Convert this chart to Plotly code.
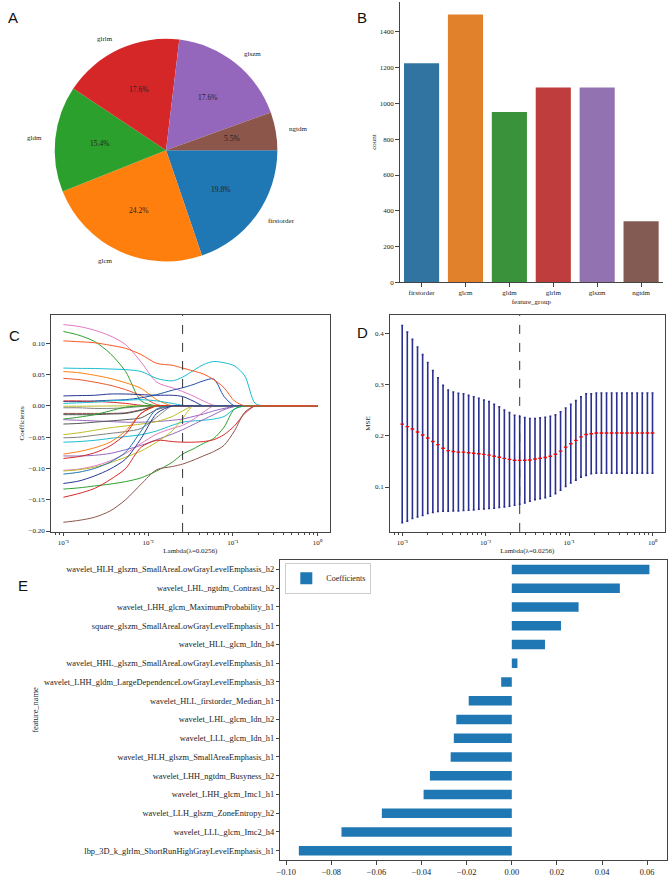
import math
import plotly.graph_objects as go

W, H = 669, 877

# ---------------- data ----------------
feature_groups = ["firstorder", "glcm", "gldm", "glrlm", "glszm", "ngtdm"]
group_counts = [1224, 1497, 952, 1089, 1089, 341]

# LASSO coefficient paths (sampled lambdas)
lasso_lambdas = [0.001, 0.0015264, 0.0023300, 0.0035565, 0.0054287, 0.0082864, 0.012649,
                 0.019307, 0.025595, 0.033932, 0.044984, 0.059636, 0.079060, 0.10481,
                 0.13895, 0.18421, 0.24421, 1.0]
lasso_paths = [
    [0.130, 0.127, 0.121, 0.112, 0.098, 0.070, 0.038, 0.029, 0.023, 0.016, 0.008, 0.001, 0, 0, 0, 0, 0, 0],
    [0.119, 0.113, 0.103, 0.084, 0.055, 0.008, 0, 0, 0, 0, 0, 0, 0, 0, 0, 0, 0, 0],
    [0.0605, 0.060, 0.0598, 0.059, 0.058, 0.055, 0.044, 0.040, 0.046, 0.056, 0.066, 0.071, 0.069, 0.064, 0.048, 0.004, 0, 0],
    [0.055, 0.053, 0.049, 0.044, 0.037, 0.028, 0.010, 0, 0, 0, 0, 0, 0, 0, 0, 0, 0, 0],
    [0.044, 0.042, 0.038, 0.033, 0.026, 0.016, 0.002, 0, 0, 0, 0, 0, 0, 0, 0, 0, 0, 0],
    [0.016, 0.0165, 0.017, 0.019, 0.019, 0.018, 0.017, 0.017, 0.015, 0.008, 0, 0, 0, 0, 0, 0, 0, 0],
    [0.007, 0.007, 0.008, 0.009, 0.010, 0.013, 0.018, 0.025, 0.029, 0.034, 0.040, 0.043, 0.015, 0, 0, 0, 0, 0],
    [0.008, 0.008, 0.007, 0.006, 0.004, 0.001, 0, 0, 0, 0, 0, 0, 0, 0, 0, 0, 0, 0],
    [0.004, 0.005, 0.006, 0.008, 0.009, 0.010, 0.008, 0.004, 0.001, 0, 0, 0, 0, 0, 0, 0, 0, 0],
    [-0.0005, -0.0005, -0.0003, -0.0001, 0, 0, 0, 0, 0, 0, 0, 0, 0, 0, 0, 0, 0, 0],
    [-0.003, -0.003, -0.004, -0.004, -0.003, -0.001, 0, 0, 0, 0, 0, 0, 0, 0, 0, 0, 0, 0],
    [-0.012, -0.012, -0.012, -0.012, -0.011, -0.006, 0, 0, 0, 0, 0, 0, 0, 0, 0, 0, 0, 0],
    [-0.014, -0.014, -0.014, -0.013, -0.012, -0.007, 0, 0, 0, 0, 0, 0, 0, 0, 0, 0, 0, 0],
    [-0.021, -0.018, -0.014, -0.008, -0.002, 0, 0, 0, 0, 0, 0, 0, 0, 0, 0, 0, 0, 0],
    [-0.022, -0.023, -0.024, -0.025, -0.026, -0.026, -0.025, -0.023, -0.021, -0.017, -0.013, -0.008, -0.004, -0.001, 0, 0, 0, 0],
    [-0.029, -0.028, -0.026, -0.024, -0.022, -0.019, -0.006, 0, 0, 0, 0, 0, 0, 0, 0, 0, 0, 0],
    [-0.046, -0.043, -0.039, -0.035, -0.032, -0.029, -0.025, -0.017, -0.008, 0, 0, 0, 0, 0, 0, 0, 0, 0],
    [-0.051, -0.050, -0.047, -0.044, -0.041, -0.036, -0.018, 0, 0, 0, 0, 0, 0, 0, 0, 0, 0, 0],
    [-0.058, -0.057, -0.055, -0.052, -0.049, -0.046, -0.040, -0.031, -0.026, -0.024, -0.023, -0.021, -0.017, -0.005, 0, 0, 0, 0],
    [-0.077, -0.073, -0.067, -0.058, -0.040, -0.012, 0, 0, 0, 0, 0, 0, 0, 0, 0, 0, 0, 0],
    [-0.080, -0.080, -0.079, -0.076, -0.070, -0.063, -0.054, -0.045, -0.038, -0.030, -0.022, -0.014, -0.006, -0.001, 0, 0, 0, 0],
    [-0.084, -0.081, -0.075, -0.064, -0.045, -0.012, 0, 0, 0, 0, 0, 0, 0, 0, 0, 0, 0, 0],
    [-0.103, -0.101, -0.096, -0.088, -0.076, -0.060, -0.045, -0.036, -0.031, -0.022, -0.010, 0, 0, 0, 0, 0, 0, 0],
    [-0.104, -0.102, -0.098, -0.091, -0.082, -0.072, -0.058, -0.040, -0.020, 0, 0, 0, 0, 0, 0, 0, 0, 0],
    [-0.109, -0.106, -0.100, -0.090, -0.074, -0.040, -0.005, 0, 0, 0, 0, 0, 0, 0, 0, 0, 0, 0],
    [-0.124, -0.120, -0.112, -0.101, -0.085, -0.052, -0.012, 0, 0, 0, 0, 0, 0, 0, 0, 0, 0, 0],
    [-0.133, -0.131, -0.128, -0.125, -0.121, -0.115, -0.104, -0.090, -0.077, -0.069, -0.060, -0.052, -0.034, -0.005, 0, 0, 0, 0],
    [-0.146, -0.140, -0.132, -0.118, -0.100, -0.066, -0.055, -0.057, -0.058, -0.058, -0.057, -0.054, -0.046, -0.032, -0.012, 0, 0, 0],
    [-0.186, -0.183, -0.178, -0.168, -0.150, -0.125, -0.102, -0.097, -0.093, -0.087, -0.080, -0.073, -0.063, -0.040, -0.010, 0, 0, 0],
    [0.104, 0.1026, 0.101, 0.097, 0.092, 0.082, 0.068, 0.065, 0.0605, 0.056, 0.051, 0.042, 0.029, 0.008, 0, 0, 0, 0],
]
lasso_colors = ["#e377c2", "#2ca02c", "#17becf", "#ff7f0e", "#e8542a", "#283593", "#1f4fa8",
                "#d62728", "#17becf", "#bcbd22", "#7f7f7f", "#8c564b", "#4d4d4d", "#2ca02c",
                "#9467bd", "#555555", "#bcbd22", "#7f7f7f", "#17becf", "#ff7f0e", "#9467bd",
                "#d62728", "#e377c2", "#bcbd22", "#1f77b4", "#283593", "#2ca02c", "#d62728",
                "#8c564b", "#ff5722"]

best_lambda = 0.0256

# cross-validation MSE
cv_lambdas = [0.001, 0.0011514, 0.0013257, 0.0015264, 0.0017575, 0.0020236, 0.0023300, 0.0026827,
              0.0030888, 0.0035565, 0.0040949, 0.0047149, 0.0054287, 0.0062506, 0.0071969,
              0.0082864, 0.0095410, 0.010985, 0.012649, 0.014563, 0.016768, 0.019307, 0.022230,
              0.025595, 0.029471, 0.033932, 0.039069, 0.044984, 0.051795, 0.059636, 0.068665,
              0.079060, 0.091030, 0.10481, 0.12068, 0.13895, 0.15999, 0.18421, 0.21210, 0.24421,
              0.28118, 0.32375, 0.37276, 0.42919, 0.49417, 0.56899, 0.65513, 0.75431, 0.86851, 1.0]
cv_mse_mean = [0.2231, 0.2182, 0.2137, 0.2078, 0.2017, 0.1959, 0.1891, 0.1829, 0.1758, 0.1712,
               0.1696, 0.1683, 0.1683, 0.1670, 0.1660, 0.1651, 0.1638, 0.1625, 0.1602, 0.1583,
               0.1560, 0.1540, 0.1524, 0.1521, 0.1524, 0.1530, 0.1547, 0.1563, 0.1579, 0.1602,
               0.1641, 0.1703, 0.1780, 0.1848, 0.1913, 0.1981, 0.2027, 0.2043, 0.2056, 0.2056,
               0.2056, 0.2056, 0.2056, 0.2056, 0.2056, 0.2056, 0.2056, 0.2056, 0.2056, 0.2056]
cv_mse_std = [0.1931, 0.1850, 0.1753, 0.1662, 0.1575, 0.1478, 0.1390, 0.1309, 0.1231, 0.1186,
              0.1163, 0.1150, 0.1144, 0.1124, 0.1108, 0.1086, 0.1066, 0.1047, 0.1017, 0.0985,
              0.0949, 0.0917, 0.0881, 0.0859, 0.0836, 0.0810, 0.0794, 0.0791, 0.0787, 0.0784,
              0.0771, 0.0768, 0.0768, 0.0771, 0.0778, 0.0787, 0.0800, 0.0784, 0.0784, 0.0784,
              0.0784, 0.0784, 0.0784, 0.0784, 0.0784, 0.0784, 0.0784, 0.0784, 0.0784, 0.0784]

# selected features (top to bottom as displayed)
feature_names = [
    "wavelet_HLH_glszm_SmallAreaLowGrayLevelEmphasis_h2",
    "wavelet_LHL_ngtdm_Contrast_h2",
    "wavelet_LHH_glcm_MaximumProbability_h1",
    "square_glszm_SmallAreaLowGrayLevelEmphasis_h1",
    "wavelet_HLL_glcm_Idn_h4",
    "wavelet_HHL_glszm_SmallAreaLowGrayLevelEmphasis_h1",
    "wavelet_LHH_gldm_LargeDependenceLowGrayLevelEmphasis_h3",
    "wavelet_HLL_firstorder_Median_h1",
    "wavelet_LHL_glcm_Idn_h2",
    "wavelet_LLL_glcm_Idn_h1",
    "wavelet_HLH_glszm_SmallAreaEmphasis_h1",
    "wavelet_LHH_ngtdm_Busyness_h2",
    "wavelet_LHH_glcm_Imc1_h1",
    "wavelet_LLH_glszm_ZoneEntropy_h2",
    "wavelet_LLL_glcm_Imc2_h4",
    "lbp_3D_k_glrlm_ShortRunHighGrayLevelEmphasis_h1",
]
feature_coefs = [0.0610, 0.0479, 0.0296, 0.0218, 0.0147, 0.0025, -0.0047, -0.0191, -0.0246,
                 -0.0257, -0.0271, -0.0363, -0.0391, -0.0576, -0.0755, -0.0944]

log_tick_vals = [0.001, 0.01, 0.1, 1]
log_tick_text = ["10⁻³", "10⁻²", "10⁻¹", "10⁰"]

# ---------------- styling ----------------
pie_colors = ["#1f77b4", "#ff7f0e", "#2ca02c", "#d62728", "#9467bd", "#8c564b"]
bar_colors = ["#3274a1", "#e1812c", "#3a923a", "#c03d3e", "#9372b2", "#845b53"]
SERIF = "Liberation Serif"
SANS = "Liberation Sans"
AX = "#444444"


def px(x):
    return x / W


def py(y):
    return 1 - y / H


fig = go.Figure()

# ---- A: pie ----
cx, cy, r = 163, 151, 112
fig.add_trace(go.Pie(
    values=group_counts, labels=feature_groups, sort=False, direction="clockwise", rotation=90,
    marker=dict(colors=pie_colors, line=dict(width=0)), textinfo="none", showlegend=False,
    domain=dict(x=[px(cx - r), px(cx + r)], y=[py(cy + r), py(cy - r)]),
))
total = sum(group_counts)
cum = 0
annotations = []
for name, v in zip(feature_groups, group_counts):
    mid = -(cum + v / 2) / total * 2 * math.pi
    cum += v
    c, s = math.cos(mid), math.sin(mid)
    annotations.append(dict(
        x=px(cx + 1.1 * r * c), y=py(cy - 1.1 * r * s), xref="paper", yref="paper",
        text=name, showarrow=False, xanchor="left" if c > 0 else "right", yanchor="middle",
        font=dict(family=SERIF, size=7, color="#222")))
    annotations.append(dict(
        x=px(cx + 0.6 * r * c), y=py(cy - 0.6 * r * s), xref="paper", yref="paper",
        text=f"{v / total * 100:.1f}%", showarrow=False, xanchor="center", yanchor="middle",
        font=dict(family=SERIF, size=7.5, color="#222")))

# ---- B: bar counts ----
fig.add_trace(go.Bar(x=feature_groups, y=group_counts, marker=dict(color=bar_colors, line=dict(width=0)),
                     width=0.8, showlegend=False, xaxis="x", yaxis="y"))

# ---- C: lasso paths ----
for path, col in zip(lasso_paths, lasso_colors):
    fig.add_trace(go.Scatter(x=lasso_lambdas, y=path, mode="lines",
                             line=dict(color=col, width=1, shape="spline", smoothing=0.8),
                             showlegend=False, xaxis="x2", yaxis="y2"))

# ---- D: CV MSE ----
fig.add_trace(go.Scatter(x=cv_lambdas, y=cv_mse_mean, mode="markers",
                         marker=dict(color="red", size=2.6, symbol="line-ew-open",
                                     line=dict(color="#ff2020", width=1.4)),
                         error_y=dict(type="data", array=cv_mse_std, color="#2b2f8f", thickness=1.6, width=1),
                         showlegend=False, xaxis="x3", yaxis="y3"))

# ---- E: coefficients ----
fig.add_trace(go.Bar(x=feature_coefs, y=feature_names, orientation="h", width=0.5,
                     marker=dict(color="#1f77b4", line=dict(width=0)), name="Coefficients",
                     showlegend=True, xaxis="x4", yaxis="y4"))

for xr, yr in (("x2", "y2 domain"), ("x3", "y3 domain")):
    fig.add_shape(type="line", xref=xr, yref=yr, x0=best_lambda, x1=best_lambda, y0=0, y1=1,
                  line=dict(color="#333333", width=1, dash="dash"))

# panel letters
for letter, lx, ly in (("A", 2, 18), ("B", 353, 18), ("C", 3, 337), ("D", 353, 334), ("E", 12, 589)):
    annotations.append(dict(x=px(lx), y=py(ly), xref="paper", yref="paper", text=letter,
                            showarrow=False, xanchor="left", yanchor="middle",
                            font=dict(family=SANS, size=15, color="#111")))

tickfont7 = dict(family=SERIF, size=7, color="#222")
tickfont85 = dict(family=SERIF, size=8.4, color="#222")
common = dict(showgrid=False, zeroline=False, showline=True, linecolor=AX, linewidth=1,
              ticks="outside", ticklen=3.5, tickwidth=0.8, tickcolor=AX)
log_ticks = dict(tickmode="array", tickvals=log_tick_vals, ticktext=log_tick_text,
                 minor=dict(ticks="outside", ticklen=2, tickwidth=0.6, tickcolor=AX, dtick="D1", showgrid=False))

fig.update_layout(
    width=W, height=H, margin=dict(l=0, r=0, t=0, b=0),
    paper_bgcolor="white", plot_bgcolor="white",
    font=dict(family=SERIF, size=7, color="#222"),
    annotations=annotations,
    legend=dict(x=px(283), y=py(566), xanchor="left", yanchor="top", bgcolor="white",
                bordercolor="#cccccc", borderwidth=1, font=dict(family=SERIF, size=8, color="#222"),
                itemwidth=30, tracegroupgap=0),
    # B
    xaxis=dict(domain=[px(398), px(663)], anchor="y", range=[-0.5, 5.5], tickfont=tickfont7,
               title=dict(text="feature_group", font=tickfont7, standoff=2), **common),
    yaxis=dict(domain=[py(284), py(1.6)], anchor="x", range=[0, 1569], tickvals=[0, 200, 400, 600, 800, 1000, 1200, 1400],
               tickfont=tickfont7, title=dict(text="count", font=tickfont7, standoff=2), **common),
    # C
    xaxis2=dict(domain=[px(47), px(328)], anchor="y2", type="log", range=[-3.15, 0.15], mirror=True,
                tickfont=tickfont7, title=dict(text="Lambda(λ=0.0256)", font=tickfont7, standoff=2),
                **log_ticks, **common),
    yaxis2=dict(domain=[py(535), py(316.7)], anchor="x2", range=[-0.2015, 0.1455], mirror=True,
                tickvals=[-0.20, -0.15, -0.10, -0.05, 0.0, 0.05, 0.10], tickformat=".2f",
                tickfont=tickfont7, title=dict(text="Coefficients", font=tickfont7, standoff=3), **common),
    # D
    xaxis3=dict(domain=[px(388), px(665)], anchor="y3", type="log", range=[-3.15, 0.15], mirror=True,
                tickfont=tickfont7, title=dict(text="Lambda(λ=0.0256)", font=tickfont7, standoff=2),
                **log_ticks, **common),
    yaxis3=dict(domain=[py(535), py(316.7)], anchor="x3", range=[0.012, 0.437], mirror=True,
                tickvals=[0.1, 0.2, 0.3, 0.4], tickformat=".1f",
                tickfont=tickfont7, title=dict(text="MSE", font=tickfont7, standoff=3), **common),
    # E
    xaxis4=dict(domain=[px(278), px(667)], anchor="y4", range=[-0.1026, 0.0688], mirror=True,
                tickvals=[-0.10, -0.08, -0.06, -0.04, -0.02, 0.0, 0.02, 0.04, 0.06], tickformat=".2f",
                tickfont=tickfont85, **common),
    yaxis4=dict(domain=[py(865), py(563.3)], anchor="x4", type="category", range=[-0.5, 15.5], mirror=True,
                categoryorder="array", categoryarray=feature_names[::-1],
                tickfont=tickfont85, title=dict(text="feature_name", font=tickfont85, standoff=4), **common),
)

fig.write_html("out.html")
